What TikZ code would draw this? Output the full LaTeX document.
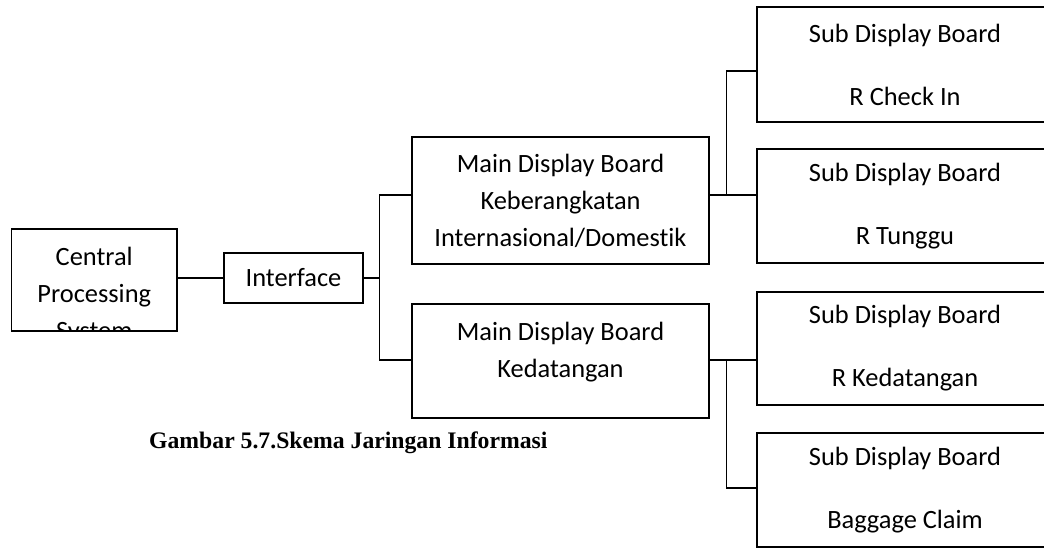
\documentclass[tikz,border=0pt]{standalone}
\usepackage{fontspec}
\setmainfont{Carlito}[Ligatures=NoCommon]
\newfontfamily\capfont{Liberation Serif}

\begin{document}
\begin{tikzpicture}[x=1pt,y=-1pt,
  board/.style={draw,line width=1.3,inner sep=0,align=center,
    font=\fontsize{26.4}{37}\selectfont},
  sub/.style={board,minimum width=296,minimum height=114,
    font=\fontsize{26.4}{63}\selectfont},
  btext/.style={inner sep=0,align=center,font=\fontsize{26.4}{37}\selectfont}]
  \clip (0,0) rectangle (1044,548);
  \fill[white] (0,0) rectangle (1044,548);
  % left part
  \node[board,minimum width=165.5,minimum height=102] (cps) at (94.25,280) {};
  \begin{scope}
    \clip (12,229) rectangle (177,331);
    \node[btext] (cpstxt) at (94.25,295) {Central\\Processing\\System};
  \end{scope}
  \node[board,minimum width=139,minimum height=50] (iface) at (293.5,278) {Interface};
  % main boards
  \node[board,minimum width=297,minimum height=127] (mdbA) at (560.5,200.5)
    {Main Display Board\\Keberangkatan\\Internasional/Domestik};
  \node[board,minimum width=297,minimum height=114] (mdbB) at (560.5,361) {};
  \node[btext] (mdbBtxt) at (560.5,352) {Main Display Board\\Kedatangan};
  % sub boards (cut by the right edge)
  \node[sub,minimum height=115] (subA1) at (905,64.5) {Sub Display Board\\R Check In};
  \node[sub] (subA2) at (905,206) {Sub Display Board\\R Tunggu};
  \node[sub,minimum height=113] (subB1) at (905,348.5) {Sub Display Board\\R Kedatangan};
  \node[sub] (subB2) at (905,490) {Sub Display Board\\Baggage Claim};
  \node[anchor=base west,inner sep=0,font=\capfont\bfseries\fontsize{23.7}{28}\selectfont]
    (cap) at (149,448) {Gambar 5.7.Skema Jaringan Informasi};
  % connectors
  \coordinate (busT) at (379.5,195);
  \coordinate (busB) at (379.5,360);
  \coordinate (jA) at (726.5,195);
  \coordinate (jA2) at (726.5,71);
  \coordinate (jB) at (726.5,360);
  \coordinate (jB2) at (726.5,488);
  \begin{scope}[line width=1.3]
    \draw (iface.west -| cps.east) -- (iface.west);
    \draw (iface.east) -- (iface.east -| busT);
    \draw (busT -| mdbA.west) -- (busT) -- (busB) -- (busB -| mdbB.west);
    \draw (jA -| mdbA.east) -- (jA -| subA2.west);
    \draw (jA) -- (jA2) -- (jA2 -| subA1.west);
    \draw (jB -| mdbB.east) -- (jB -| subB1.west);
    \draw (jB) -- (jB2) -- (jB2 -| subB2.west);
  \end{scope}
\end{tikzpicture}
\end{document}
